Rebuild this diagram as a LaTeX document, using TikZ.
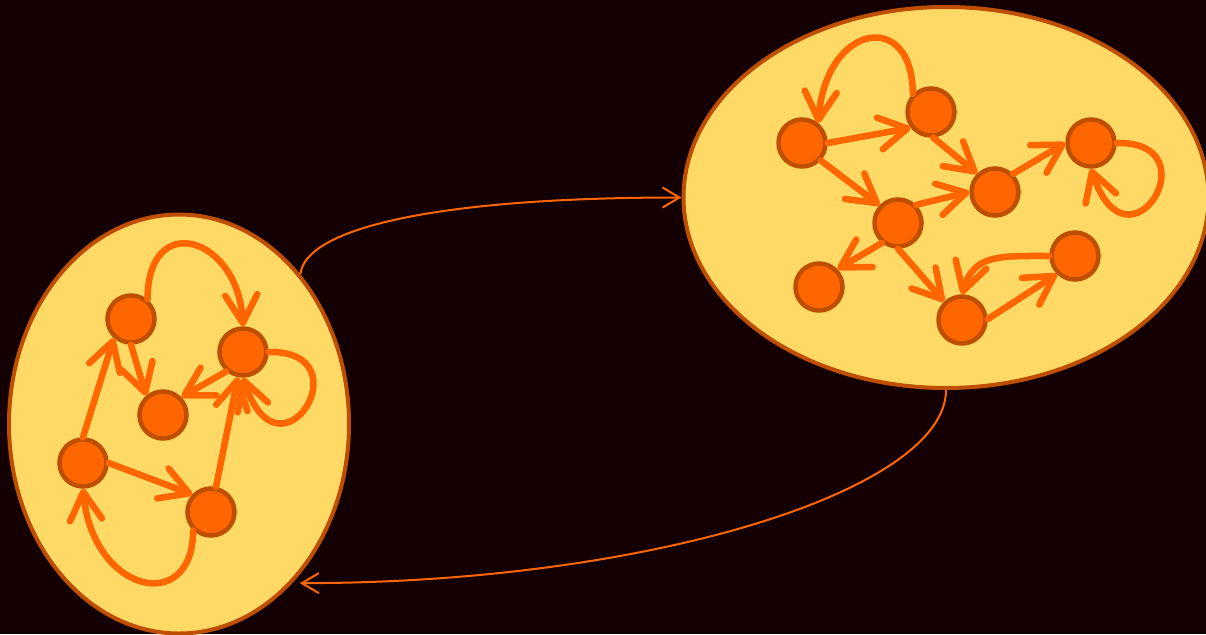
\documentclass[tikz,border=0pt]{standalone}
\usetikzlibrary{shapes.geometric,arrows.meta}
\definecolor{bgc}{RGB}{20,0,3}
\definecolor{blobfill}{RGB}{255,217,102}
\definecolor{rim}{RGB}{191,79,0}
\definecolor{hot}{RGB}{255,102,0}

\begin{document}
\begin{tikzpicture}[x=1pt,y=-1pt,
  v/.style={circle,draw=rim,fill=hot,line width=4.5pt,minimum size=47pt,inner sep=0pt},
  blob/.style={ellipse,draw=rim,fill=blobfill,line width=4pt,inner sep=0pt},
  ed/.style={draw=hot,line width=6.5pt,line cap=round,-{Straight Barb[length=28pt,width=32pt,round]}},
  con/.style={draw=hot,line width=2pt,-{Straight Barb[length=17pt,width=20pt]}}]
\useasboundingbox (0,0) rectangle (1206,634);
\fill[bgc] (0,0) rectangle (1206,634);
\clip (0,0) rectangle (1206,634);

\node[blob,minimum width=340pt,minimum height=419pt] (g1) at (179,424) {};
\node[blob,minimum width=525pt,minimum height=381pt] (g2) at (946,197.5) {};

\node[v] (u1) at (131,319) {};
\node[v] (u2) at (243,352) {};
\node[v] (u3) at (163,415) {};
\node[v] (u4) at (83,463) {};
\node[v] (u5) at (211,512) {};

\node[v] (w1) at (802,143) {};
\node[v] (w2) at (931,112) {};
\node[v] (w3) at (995,192) {};
\node[v] (w4) at (1091,143) {};
\node[v] (w5) at (898,223) {};
\node[v] (w6) at (819,287) {};
\node[v] (w7) at (962,320) {};
\node[v] (w8) at (1075,256) {};

\draw[ed] (u1.50) .. controls +(0,-90) and +(-5,-90) .. (u2.90);
\draw[ed] (u1.-90) -- (u3.131);
\draw[ed] (u2.229) -- (u3.44);
\draw[ed] (u2.0) .. controls +(97,-2) and +(37,112) .. (u2.-90);
\draw[ed] (u4.90) -- (u1.228);
\draw[ed] (u4.0) -- (u5.137);
\draw[ed] (u5) -- (u2);
\draw[ed] (u5.226) .. controls +(0,85) and +(10,105) .. (u4.-90);

\draw[ed] (w2.135) .. controls +(0,-85) and +(8,-100) .. (w1.51);
\draw[ed] (w1.0) -- (w2.218);
\draw[ed] (w2.-85) -- (w3.134);
\draw[ed] (w1.-43) -- (w5.136);
\draw[ed] (w5.45) -- (w3.180);
\draw[ed] (w3.45) -- (w4.180);
\draw[ed] (w4.0) .. controls +(97,-2) and +(37,112) .. (w4.-90);
\draw[ed] (w5.231) -- (w6.44);
\draw[ed] (w5.-90) -- (w7.134);
\draw[ed] (w7.2) -- (w8.225);
\draw[ed] (w8.180) .. controls +(-50,0) and +(12,-40) .. (w7.90);

\draw[con] (g1.51) .. controls +(5,-45) and +(-250,0) .. (g2.west);
\draw[con] (g2.south) .. controls +(0,100) and +(350,0) .. ([shift={(4,4)}]g1.-53);
\end{tikzpicture}
\end{document}
